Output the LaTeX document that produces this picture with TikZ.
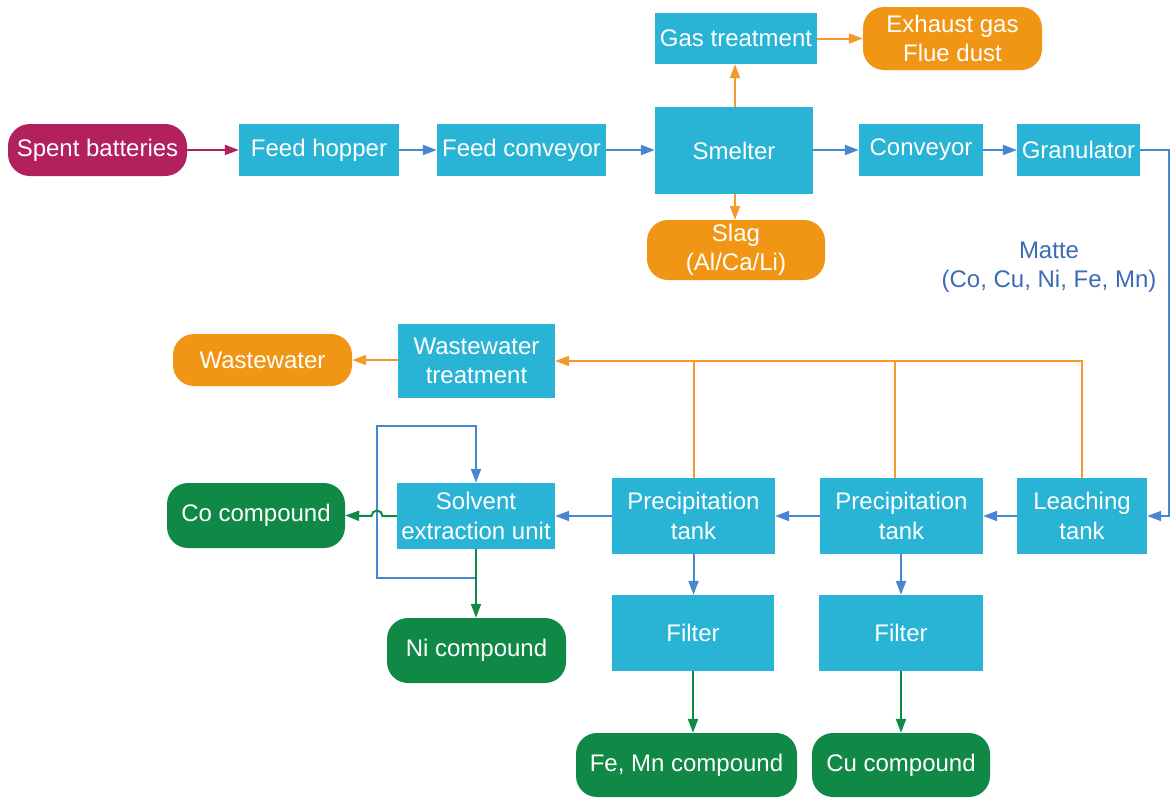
\documentclass[tikz,border=0pt]{standalone}
\usepackage{fontspec}
\setmainfont{Liberation Sans}
\usetikzlibrary{arrows.meta}
\definecolor{boxcyan}{RGB}{41,179,213}
\definecolor{battmag}{RGB}{178,32,94}
\definecolor{wasteorg}{RGB}{240,150,20}
\definecolor{lineorg}{RGB}{243,154,46}
\definecolor{prodgreen}{RGB}{16,137,70}
\definecolor{flowblue}{RGB}{72,134,206}
\definecolor{labelblue}{RGB}{61,108,181}
\tikzset{
  base/.style={inner sep=0pt, text=white, align=center,
    font=\fontsize{24pt}{29.5pt}\selectfont},
  proc/.style={base, fill=boxcyan},
  waste/.style={base, fill=wasteorg, rounded corners=21pt},
  prod/.style={base, fill=prodgreen, rounded corners=21pt},
  feed/.style={base, fill=battmag, rounded corners=22pt},
  tip/.style={-{Triangle[length=14pt,width=10pt]}},
  bline/.style={tip, draw=flowblue, line width=2pt},
  oline/.style={tip, draw=lineorg, line width=2pt},
  gline/.style={tip, draw=prodgreen, line width=2pt},
  mline/.style={tip, draw=battmag, line width=2pt},
  plainorg/.style={draw=lineorg, line width=2pt},
}
\begin{document}
\begin{tikzpicture}[x=1pt, y=-1pt]
\useasboundingbox[fill=white] (0,0) rectangle (1172,798);

% smelting line
\node[feed, minimum width=179pt, minimum height=52pt] (spent) at (97.5,150) {Spent batteries};
\node[proc, minimum width=160pt, minimum height=52pt] (hopper) at (319,150) {Feed hopper};
\node[proc, minimum width=169pt, minimum height=52pt] (fconv) at (521.5,150) {Feed conveyor};
\node[proc, minimum width=158pt, minimum height=87pt] (smelter) at (734,150.5) {Smelter};
\node[proc, minimum width=162pt, minimum height=51pt] (gas) at (736,38.5) {Gas treatment};
\node[waste, minimum width=179pt, minimum height=63pt] (exhaust) at (952.5,38.5) {Exhaust gas\\Flue dust};
\node[waste, minimum width=178pt, minimum height=60pt] (slag) at (736,250) {Slag\\(Al/Ca/Li)};
\node[proc, minimum width=124pt, minimum height=52pt] (conv) at (921,150) {Conveyor};
\node[proc, minimum width=123pt, minimum height=52pt] (gran) at (1078.5,150) {Granulator};
\node[base, text=labelblue] (matte) at (1049,267) {Matte\\(Co, Cu, Ni, Fe, Mn)};

% hydrometallurgy line
\node[proc, minimum width=130pt, minimum height=76pt] (leach) at (1082,516) {Leaching\\tank};
\node[proc, minimum width=163pt, minimum height=76pt] (prec2) at (901.5,516) {Precipitation\\tank};
\node[proc, minimum width=163pt, minimum height=76pt] (prec1) at (693.5,516) {Precipitation\\tank};
\node[proc, minimum width=158pt, minimum height=66pt] (solv) at (476,516) {Solvent\\extraction unit};
\node[prod, minimum width=178pt, minimum height=65pt] (co) at (256,515.5) {Co compound};
\node[prod, minimum width=179pt, minimum height=65pt] (ni) at (476.5,650.5) {Ni compound};
\node[proc, minimum width=162pt, minimum height=76pt] (filt1) at (693,633) {Filter};
\node[proc, minimum width=164pt, minimum height=76pt] (filt2) at (901,633) {Filter};
\node[prod, minimum width=221pt, minimum height=64pt] (femn) at (686.5,765) {Fe, Mn compound};
\node[prod, minimum width=178pt, minimum height=64pt] (cu) at (901,765) {Cu compound};
\node[proc, minimum width=157pt, minimum height=74pt] (wwt) at (476.5,361) {Wastewater\\treatment};
\node[waste, minimum width=179pt, minimum height=52pt] (ww) at (262.5,360) {Wastewater};

% connectors: smelting
\draw[mline] (spent) -- (hopper);
\draw[bline] (hopper) -- (fconv);
\draw[bline] (fconv.east) -- (fconv.east -| smelter.west);
\draw[oline] ([xshift=1pt]smelter.north) -- ([xshift=1pt]smelter.north |- gas.south);
\draw[oline] (gas.east) -- (gas.east -| exhaust.west);
\draw[oline] ([xshift=1pt]smelter.south) -- ([xshift=1pt]smelter.south |- slag.north);
\draw[bline] (smelter.east |- conv.west) -- (conv.west);
\draw[bline] (conv) -- (gran);
\draw[bline] (gran.east) -- ++(29,0) |- (leach.east);

% connectors: leaching and precipitation
\draw[bline] (leach) -- (prec2);
\draw[bline] (prec2) -- (prec1);
\draw[bline] (prec1) -- (solv);
\draw[bline] (prec1.south) -- (prec1.south |- filt1.north);
\draw[bline] (filt2.north |- prec2.south) -- (filt2.north);
\draw[gline] (filt1.south) -- (filt1.south |- femn.north);
\draw[gline] (filt2.south) -- (filt2.south |- cu.north);

% wastewater collection
\draw[oline] (leach.north) |- (wwt.east);
\draw[plainorg] (prec1.north) -- (prec1.north |- wwt.east);
\draw[plainorg] ([xshift=-6.5pt]prec2.north) -- ([xshift=-6.5pt]prec2.north |- wwt.east);
\draw[oline] (wwt.west |- ww.east) -- (ww.east);

% solvent extraction recycle loop
\coordinate (loopS) at (476,578);
\coordinate (loopA) at (377,578);
\coordinate (loopB) at (377,426);
\coordinate (loopC) at (476,426);
\draw[bline] (loopS) -- (loopA) -- (loopB) -- (loopC) -- (solv.north);

% products from solvent extraction
\coordinate (jumpR) at (382.5,516);
\draw[gline] (solv.west) -- (jumpR) arc[start angle=0, end angle=180, radius=5.5pt] -- (co.east);
\draw[gline] (solv.south) -- (solv.south |- ni.north);
\end{tikzpicture}
\end{document}
